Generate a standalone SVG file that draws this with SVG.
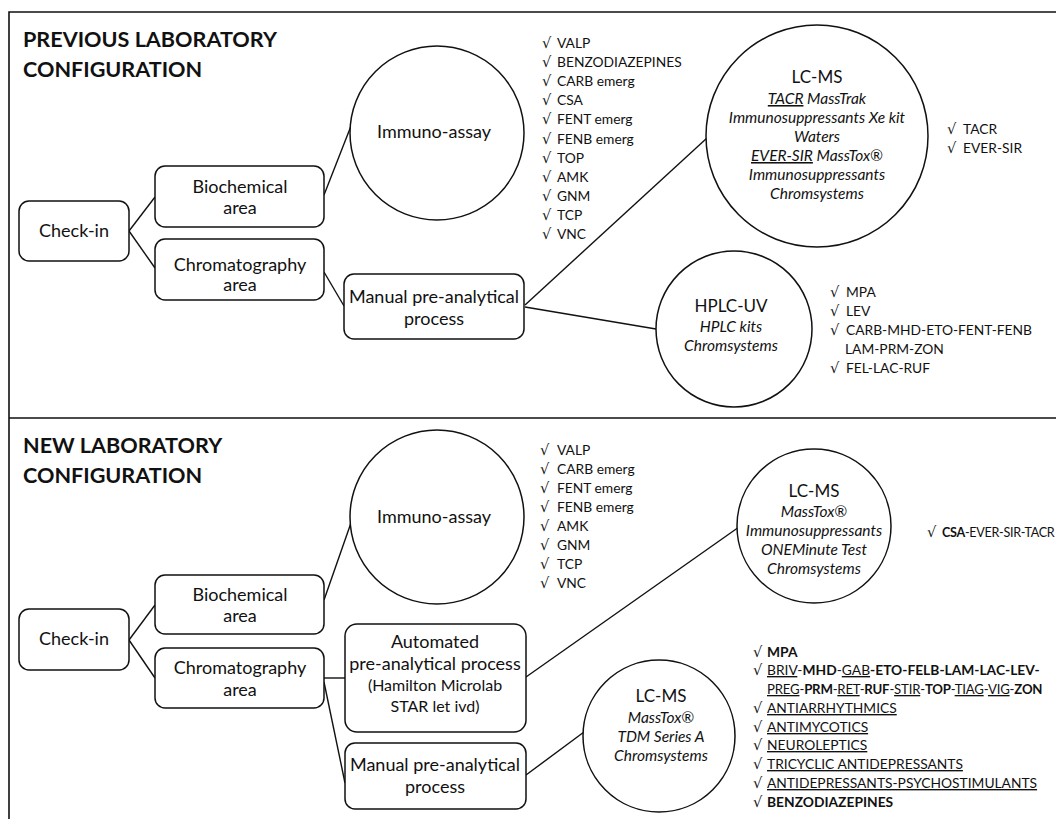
<svg xmlns="http://www.w3.org/2000/svg" width="1056" height="819" viewBox="0 0 1056 819">
<style>
text{font-family:Lato,"Liberation Sans",sans-serif;fill:#111}
.title{font-size:21.6px;font-weight:bold}
.box{fill:#fff;stroke:#111;stroke-width:1.5}
.circ{fill:#fff;stroke:#111;stroke-width:1.5}
.lbl{font-size:18px;text-anchor:middle}
.sm{font-size:16px;text-anchor:middle}
.big{font-size:17px;text-anchor:middle}
.it{font-size:15.5px;font-style:italic;text-anchor:middle}
.lst{font-size:13.8px}
.ck{font-family:"DejaVu Sans",sans-serif;font-size:14.5px}
.b{font-weight:bold}
.u{text-decoration:underline}
.conn line{stroke:#111;stroke-width:1.4}
.frame{stroke:#111;stroke-width:1.6;fill:none}
</style>
<rect width="1056" height="819" fill="#fff"/>
<g id="frame">
<path class="frame" d="M9,819 V12 H1056 M9,418 H1056"/>
</g>
<text class="title" x="23" y="47">PREVIOUS LABORATORY</text>
<text class="title" x="23" y="77">CONFIGURATION</text>
<text class="title" x="23" y="453">NEW LABORATORY</text>
<text class="title" x="23" y="483">CONFIGURATION</text>

<g class="conn" id="connectors">
<line x1="129" y1="231" x2="155" y2="197"/>
<line x1="129" y1="231" x2="155" y2="268"/>
<line x1="324" y1="195" x2="351" y2="126"/>
<line x1="324" y1="272" x2="344" y2="306"/>
<line x1="525" y1="305" x2="707" y2="138"/>
<line x1="525" y1="307" x2="656" y2="329"/>
<line x1="129" y1="640" x2="155" y2="605"/>
<line x1="129" y1="640" x2="155" y2="678"/>
<line x1="324" y1="600" x2="352" y2="520"/>
<line x1="324" y1="678" x2="345" y2="678"/>
<line x1="324" y1="682" x2="345" y2="783"/>
<line x1="526" y1="677" x2="739" y2="527"/>
<line x1="526" y1="775" x2="584" y2="732"/>
</g>

<!-- previous configuration -->
<g id="checkin1"><rect class="box" x="19" y="201" width="110" height="60" rx="10"/><text class="lbl" x="74" y="237">Check-in</text></g>
<g id="biochem1"><rect class="box" x="155" y="166" width="169" height="61" rx="10"/><text class="lbl" x="240" y="193">Biochemical</text><text class="lbl" x="240" y="214">area</text></g>
<g id="chroma1"><rect class="box" x="155" y="239" width="169" height="61" rx="10"/><text class="lbl" x="240" y="271">Chromatography</text><text class="lbl" x="240" y="291">area</text></g>
<g id="manual1"><rect class="box" x="344" y="274" width="180" height="65" rx="10"/><text class="lbl" x="434" y="303">Manual pre-analytical</text><text class="lbl" x="434" y="325">process</text></g>
<g id="immuno1"><circle class="circ" cx="437" cy="133" r="87"/><text class="lbl" x="434" y="138">Immuno-assay</text></g>
<g id="list-immuno1" class="lst">
<text y="48"><tspan class="ck" x="542">√</tspan><tspan x="557">VALP</tspan></text>
<text y="67"><tspan class="ck" x="542">√</tspan><tspan x="557">BENZODIAZEPINES</tspan></text>
<text y="86"><tspan class="ck" x="542">√</tspan><tspan x="557">CARB emerg</tspan></text>
<text y="105"><tspan class="ck" x="542">√</tspan><tspan x="557">CSA</tspan></text>
<text y="124"><tspan class="ck" x="542">√</tspan><tspan x="557">FENT emerg</tspan></text>
<text y="144"><tspan class="ck" x="542">√</tspan><tspan x="557">FENB emerg</tspan></text>
<text y="163"><tspan class="ck" x="542">√</tspan><tspan x="557">TOP</tspan></text>
<text y="182"><tspan class="ck" x="542">√</tspan><tspan x="557">AMK</tspan></text>
<text y="201"><tspan class="ck" x="542">√</tspan><tspan x="557">GNM</tspan></text>
<text y="220"><tspan class="ck" x="542">√</tspan><tspan x="557">TCP</tspan></text>
<text y="239"><tspan class="ck" x="542">√</tspan><tspan x="557">VNC</tspan></text>
</g>
<g id="lcms1"><circle class="circ" cx="817" cy="136" r="111"/>
<text class="big" x="817" y="83">LC-MS</text>
<text class="it" x="817" y="104"><tspan class="u">TACR</tspan> MassTrak</text>
<text class="it" x="817" y="123">Immunosuppressants Xe kit</text>
<text class="it" x="817" y="142">Waters</text>
<text class="it" x="817" y="161"><tspan class="u">EVER-SIR</tspan> MassTox®</text>
<text class="it" x="817" y="180">Immunosuppressants</text>
<text class="it" x="817" y="199">Chromsystems</text>
</g>
<g id="list-lcms1" class="lst">
<text y="134"><tspan class="ck" x="947">√</tspan><tspan x="963">TACR</tspan></text>
<text y="153"><tspan class="ck" x="947">√</tspan><tspan x="963">EVER-SIR</tspan></text>
</g>
<g id="hplc1"><circle class="circ" cx="734" cy="329" r="78"/>
<text class="big" x="731" y="312">HPLC-UV</text>
<text class="it" x="731" y="332">HPLC kits</text>
<text class="it" x="731" y="351">Chromsystems</text>
</g>
<g id="list-hplc1" class="lst">
<text y="297"><tspan class="ck" x="830">√</tspan><tspan x="846">MPA</tspan></text>
<text y="316"><tspan class="ck" x="830">√</tspan><tspan x="846">LEV</tspan></text>
<text y="335"><tspan class="ck" x="830">√</tspan><tspan x="846">CARB-MHD-ETO-FENT-FENB</tspan></text>
<text x="845" y="354">LAM-PRM-ZON</text>
<text y="373"><tspan class="ck" x="830">√</tspan><tspan x="846">FEL-LAC-RUF</tspan></text>
</g>

<!-- new configuration -->
<g id="checkin2"><rect class="box" x="19" y="609" width="110" height="61" rx="10"/><text class="lbl" x="74" y="645">Check-in</text></g>
<g id="biochem2"><rect class="box" x="155" y="575" width="169" height="59" rx="10"/><text class="lbl" x="240" y="601">Biochemical</text><text class="lbl" x="240" y="622">area</text></g>
<g id="chroma2"><rect class="box" x="155" y="648" width="169" height="60" rx="10"/><text class="lbl" x="240" y="674">Chromatography</text><text class="lbl" x="240" y="696">area</text></g>
<g id="auto2"><rect class="box" x="345" y="624" width="181" height="108" rx="12"/>
<text class="lbl" x="435" y="648">Automated</text>
<text class="lbl" x="435" y="670">pre-analytical process</text>
<text class="sm" x="435" y="691">(Hamilton Microlab</text>
<text class="sm" x="435" y="712">STAR let ivd)</text>
</g>
<g id="manual2"><rect class="box" x="345" y="743" width="181" height="66" rx="10"/><text class="lbl" x="435" y="771">Manual pre-analytical</text><text class="lbl" x="435" y="793">process</text></g>
<g id="immuno2"><circle class="circ" cx="437" cy="517" r="87"/><text class="lbl" x="434" y="523">Immuno-assay</text></g>
<g id="list-immuno2" class="lst">
<text y="455"><tspan class="ck" x="540">√</tspan><tspan x="557">VALP</tspan></text>
<text y="474"><tspan class="ck" x="540">√</tspan><tspan x="557">CARB emerg</tspan></text>
<text y="493"><tspan class="ck" x="540">√</tspan><tspan x="557">FENT emerg</tspan></text>
<text y="512"><tspan class="ck" x="540">√</tspan><tspan x="557">FENB emerg</tspan></text>
<text y="531"><tspan class="ck" x="540">√</tspan><tspan x="557">AMK</tspan></text>
<text y="550"><tspan class="ck" x="540">√</tspan><tspan x="557">GNM</tspan></text>
<text y="569"><tspan class="ck" x="540">√</tspan><tspan x="557">TCP</tspan></text>
<text y="588"><tspan class="ck" x="540">√</tspan><tspan x="557">VNC</tspan></text>
</g>
<g id="lcms2"><circle class="circ" cx="814" cy="526" r="77"/>
<text class="big" x="814" y="497">LC-MS</text>
<text class="it" x="814" y="517">MassTox®</text>
<text class="it" x="814" y="536">Immunosuppressants</text>
<text class="it" x="814" y="555">ONEMinute Test</text>
<text class="it" x="814" y="574">Chromsystems</text>
</g>
<g id="list-lcms2" class="lst">
<text y="537"><tspan class="ck" x="927">√</tspan><tspan x="942" style="font-size:12.6px;letter-spacing:-0.3px"><tspan class="b">CSA</tspan>-EVER-SIR-TACR</tspan></text>
</g>
<g id="lcms3"><circle class="circ" cx="659" cy="736" r="76"/>
<text class="big" x="661" y="702">LC-MS</text>
<text class="it" x="661" y="723">MassTox®</text>
<text class="it" x="661" y="742">TDM Series A</text>
<text class="it" x="661" y="761">Chromsystems</text>
</g>
<g id="list-lcms3" class="lst">
<text y="657"><tspan class="ck" x="753">√</tspan><tspan x="767" class="b">MPA</tspan></text>
<text y="675"><tspan class="ck" x="753">√</tspan><tspan x="767" class="u">BRIV</tspan>-<tspan class="b">MHD</tspan>-<tspan class="u">GAB</tspan><tspan class="b">-ETO-FELB-LAM-LAC-LEV-</tspan></text>
<text x="767" y="694" style="font-size:13.2px;letter-spacing:-0.2px"><tspan class="u">PREG</tspan>-<tspan class="b">PRM</tspan>-<tspan class="u">RET</tspan>-<tspan class="b">RUF</tspan>-<tspan class="u">STIR</tspan>-<tspan class="b">TOP</tspan>-<tspan class="u">TIAG</tspan>-<tspan class="u">VIG</tspan>-<tspan class="b">ZON</tspan></text>
<text y="713"><tspan class="ck" x="753">√</tspan><tspan x="767" class="u">ANTIARRHYTHMICS</tspan></text>
<text y="732"><tspan class="ck" x="753">√</tspan><tspan x="767" class="u">ANTIMYCOTICS</tspan></text>
<text y="750"><tspan class="ck" x="753">√</tspan><tspan x="767" class="u">NEUROLEPTICS</tspan></text>
<text y="769"><tspan class="ck" x="753">√</tspan><tspan x="767" class="u">TRICYCLIC ANTIDEPRESSANTS</tspan></text>
<text y="788"><tspan class="ck" x="753">√</tspan><tspan x="767" class="u">ANTIDEPRESSANTS-PSYCHOSTIMULANTS</tspan></text>
<text y="807"><tspan class="ck" x="753">√</tspan><tspan x="767" class="b">BENZODIAZEPINES</tspan></text>
</g>
</svg>
